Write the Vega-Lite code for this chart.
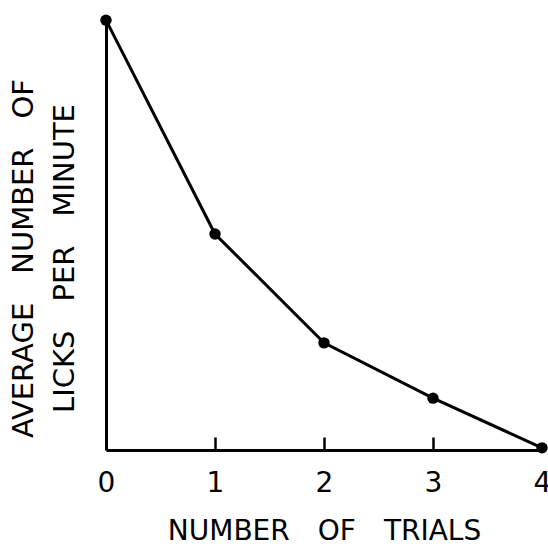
{
  "$schema": "https://vega.github.io/schema/vega-lite/v6.json",
  "width": 436,
  "height": 432,
  "autosize": "none",
  "padding": {"left": 106, "top": 18, "right": 6, "bottom": 98},
  "background": "white",
  "config": {"view": {"stroke": null}, "font": "DejaVu Sans"},
  "data": {"values": [
    {"trials": 0, "licks": 99.5},
    {"trials": 1, "licks": 50},
    {"trials": 2, "licks": 24.8},
    {"trials": 3, "licks": 12},
    {"trials": 4, "licks": 0.5}
  ]},
  "encoding": {
    "x": {"field": "trials", "type": "quantitative",
      "scale": {"domain": [0, 4], "nice": false, "zero": false},
      "axis": {"values": [0, 1, 2, 3, 4], "title": "NUMBER\u2003OF\u2003TRIALS", "grid": false,
        "domainColor": "black", "domainWidth": 3,
        "tickColor": "black", "tickWidth": 2.5, "tickSize": -13,
        "tickOpacity": {"condition": {"test": "datum.value == 0 || datum.value == 4", "value": 0}, "value": 1},
        "labelFontSize": 28, "labelColor": "black", "labelPadding": 32, "labelFlush": false,
        "titleFontSize": 28, "titleFontWeight": "normal", "titleColor": "black", "titlePadding": 20}},
    "y": {"field": "licks", "type": "quantitative",
      "scale": {"domain": [0, 100], "nice": false},
      "axis": {"title": ["AVERAGE\u2003NUMBER\u2003OF", "LICKS\u2003PER\u2003MINUTE"], "grid": false,
        "ticks": false, "labels": false,
        "domainColor": "black", "domainWidth": 3,
        "titleFontSize": 29, "titleFontWeight": "normal", "titleColor": "black",
        "titleLineHeight": 41, "titlePadding": 27, "titleY": 240}}
  },
  "layer": [
    {"mark": {"type": "line", "color": "black", "strokeWidth": 3}},
    {"mark": {"type": "point", "filled": true, "color": "black", "size": 130, "opacity": 1}}
  ]
}
